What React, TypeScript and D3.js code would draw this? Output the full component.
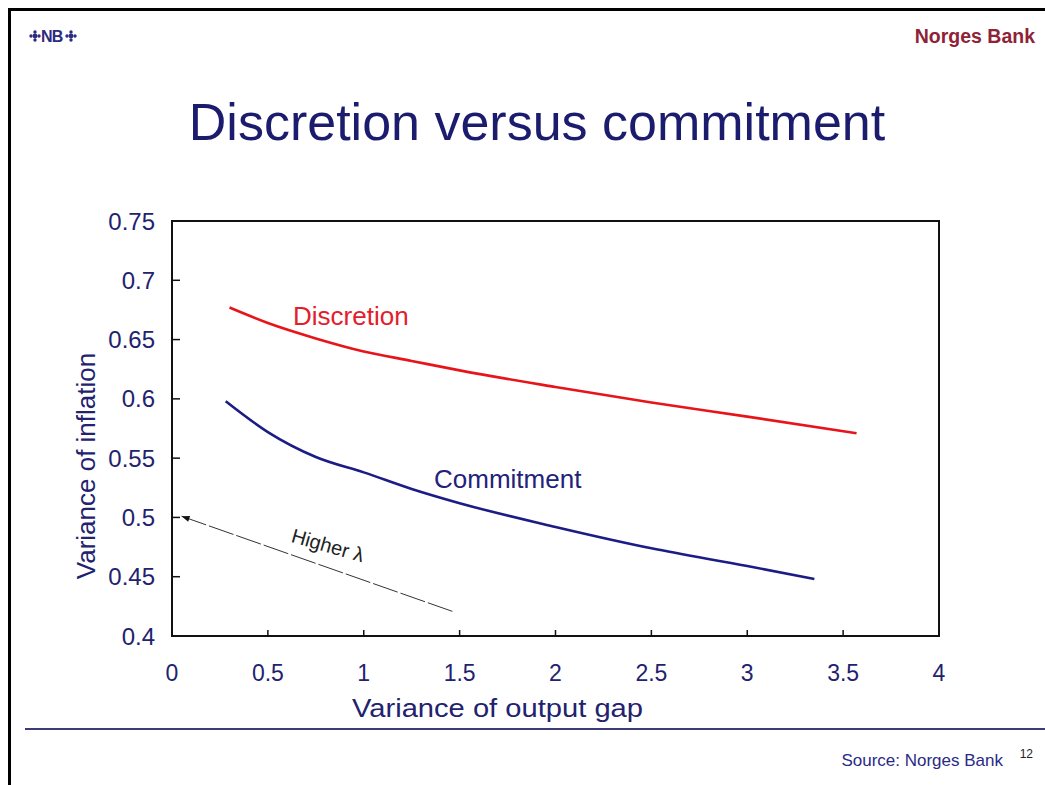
import React from "react";
import * as d3 from "d3";

const discretionX = [0.3, 0.5, 0.75, 1.0, 1.25, 1.5, 2.0, 2.5, 3.0, 3.57];
const discretionY = [0.677, 0.664, 0.651, 0.640, 0.632, 0.624, 0.610, 0.597, 0.585, 0.571];
const commitmentX = [0.28, 0.5, 0.75, 1.0, 1.25, 1.5, 2.0, 2.5, 3.0, 3.35];
const commitmentY = [0.598, 0.572, 0.551, 0.538, 0.524, 0.512, 0.492, 0.474, 0.459, 0.448];
const lambdaX = [0.05, 1.476];
const lambdaY = [0.501, 0.42];
const xTicks = [0, 0.5, 1, 1.5, 2, 2.5, 3, 3.5, 4];
const yTicks = [0.4, 0.45, 0.5, 0.55, 0.6, 0.65, 0.7, 0.75];

const W = 1045;
const H = 785;
const M = { left: 172, right: 939, top: 221, bottom: 636 };
const NAVY = "#22226e";
const FONT = "Liberation Sans, Arial, sans-serif";

export default function App() {
  const x = d3.scaleLinear().domain([0, 4]).range([M.left, M.right]);
  const y = d3.scaleLinear().domain([0.4, 0.75]).range([M.bottom, M.top]);
  const line = d3
    .line<[number, number]>()
    .x((d) => x(d[0]))
    .y((d) => y(d[1]))
    .curve(d3.curveMonotoneX);
  const disc = discretionX.map((v, i) => [v, discretionY[i]] as [number, number]);
  const comm = commitmentX.map((v, i) => [v, commitmentY[i]] as [number, number]);
  const lam = lambdaX.map((v, i) => [v, lambdaY[i]] as [number, number]);
  const lx0 = x(lambdaX[0]);
  const ly0 = y(lambdaY[0]);
  const lx1 = x(lambdaX[1]);
  const ly1 = y(lambdaY[1]);
  const ux = (lx1 - lx0) / Math.hypot(lx1 - lx0, ly1 - ly0);
  const uy = (ly1 - ly0) / Math.hypot(lx1 - lx0, ly1 - ly0);
  const arrow = `M${lx0},${ly0} L${lx0 + ux * 8 - uy * 3},${ly0 + uy * 8 + ux * 3} L${lx0 + ux * 8 + uy * 3},${ly0 + uy * 8 - ux * 3} Z`;

  const orn = (cx: number) => (
    <g fill="#2c2c80">
      <circle cx={cx} cy={36} r={2.4} />
      <circle cx={cx - 4} cy={36} r={1.7} />
      <circle cx={cx + 4} cy={36} r={1.7} />
      <circle cx={cx} cy={32} r={1.7} />
      <circle cx={cx} cy={40} r={1.7} />
    </g>
  );

  return (
    <svg
      width={W}
      height={H}
      style={{ position: "absolute", left: 0, top: 0, background: "#fff" }}
      fontFamily={FONT}
    >
      <rect x={0} y={0} width={W} height={H} fill="#fff" />
      <rect x={9.5} y={9.5} width={1100} height={1000} fill="none" stroke="#000" strokeWidth={3} />
      {orn(35)}
      <text x={41} y={42} fontSize={16} fontWeight="bold" fill="#2c2c80" letterSpacing={-0.8}>NB</text>
      {orn(71)}
      <text x={1035} y={43} textAnchor="end" fontSize={19.5} fontWeight="bold" fill="#8e2238">Norges Bank</text>
      <text x={537} y={140} textAnchor="middle" fontSize={52} fill="#1c1c6e">Discretion versus commitment</text>

      {/* axes box */}
      <rect x={M.left} y={M.top} width={M.right - M.left} height={M.bottom - M.top} fill="none" stroke="#111" strokeWidth={2} />
      {yTicks.map((t) => (
        <g key={"y" + t}>
          {t > 0.4 && t < 0.75 && (
            <line x1={M.left} x2={M.left + 8} y1={y(t)} y2={y(t)} stroke="#111" strokeWidth={1.5} />
          )}
          <text x={155} y={y(t) + 8.5} textAnchor="end" fontSize={24} fill={NAVY}>{String(t)}</text>
        </g>
      ))}
      {xTicks.map((t) => (
        <g key={"x" + t}>
          {t > 0 && t < 4 && (
            <line x1={x(t)} x2={x(t)} y1={M.bottom} y2={M.bottom - 6} stroke="#111" strokeWidth={1.5} />
          )}
          <text x={x(t)} y={681} textAnchor="middle" fontSize={23} fill={NAVY}>{String(t)}</text>
        </g>
      ))}
      <text x={352} y={717} fontSize={25} fill={NAVY} textLength={291} lengthAdjust="spacingAndGlyphs">Variance of output gap</text>
      <text transform="translate(95,466) rotate(-90)" textAnchor="middle" fontSize={26} fill={NAVY}>Variance of inflation</text>

      <path d={line(disc) || ""} fill="none" stroke="#e8141c" strokeWidth={2.6} />
      <path d={line(comm) || ""} fill="none" stroke="#1c1c86" strokeWidth={2.6} />
      <path d={line(lam) || ""} fill="none" stroke="#333" strokeWidth={1} strokeDasharray="26,3" />
      <path d={arrow} fill="#111" />
      <text transform="translate(326,552) rotate(16)" textAnchor="middle" fontSize={20} fill="#222">Higher λ</text>

      <text x={293} y={325} fontSize={26} fill="#e2202c">Discretion</text>
      <text x={434} y={488} fontSize={26} fill="#22227a">Commitment</text>

      <line x1={25} x2={W} y1={729} y2={729} stroke="#3b3b7a" strokeWidth={2} />
      <text x={1003} y={766} textAnchor="end" fontSize={17} fill="#2a2a86">Source: Norges Bank</text>
      <text x={1033} y={758} textAnchor="end" fontSize={12} fill="#222">12</text>
    </svg>
  );
}
